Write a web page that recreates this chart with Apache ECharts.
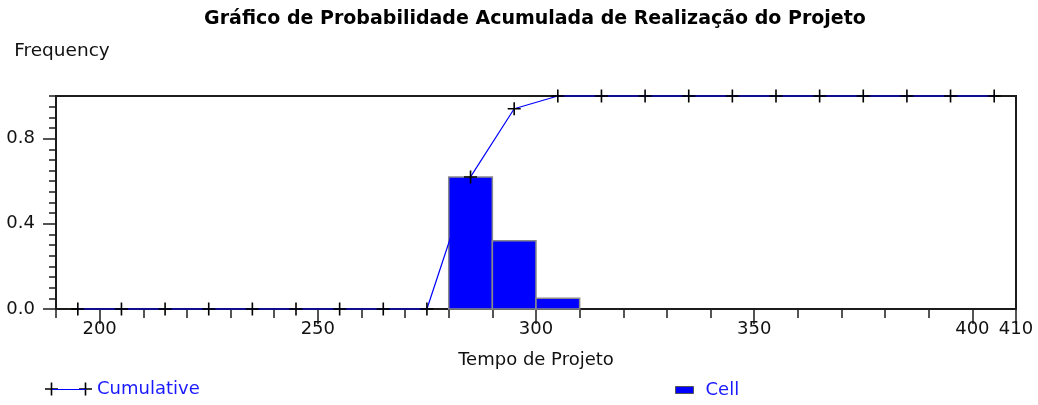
<!DOCTYPE html>
<html>
<head>
<meta charset="utf-8">
<script src="https://cdn.jsdelivr.net/npm/echarts@6/dist/echarts.min.js"></script>
<style>
  html, body { margin: 0; padding: 0; background: #fff; }
  #chart { width: 1038px; height: 405px; }
</style>
</head>
<body>
<div id="chart"></div>
<script>
// Histogram cells (project duration bins) and their relative frequency
const cellStart = [280, 290, 300];
const cellEnd = [290, 300, 310];
const cellFreq = [0.62, 0.32, 0.05];

// Cumulative probability at each bin midpoint
const cumX = [195, 205, 215, 225, 235, 245, 255, 265, 275, 285, 295,
              305, 315, 325, 335, 345, 355, 365, 375, 385, 395, 405];
const cumY = [0, 0, 0, 0, 0, 0, 0, 0, 0, 0.62, 0.94,
              1, 1, 1, 1, 1, 1, 1, 1, 1, 1, 1];

// Axis tick labels
const xLabels = [200, 250, 300, 350, 400, 410];
const yLabels = [0, 0.4, 0.8];

const FONT = 'DejaVu Sans';
const INK = '#1c1c1c';
const CROSS = 'path://M5.7,0h1.6v13h-1.6z M0,5.7h13v1.6h-13z';
const CROSS_PAIR = 'path://M5.7,0h1.6v13h-1.6z M0,5.7h13v1.6h-13z M39.7,0h1.6v13h-1.6z M34,5.7h13v1.6h-13z';

const cellData = cellStart.map((s, i) => [s, cellEnd[i], cellFreq[i]]);
const cumData = cumX.map((x, i) => [x, cumY[i]]);

const chart = echarts.init(document.getElementById('chart'), null, { renderer: 'canvas' });

chart.setOption({
  animation: false,
  backgroundColor: '#fff',
  title: {
    text: 'Gráfico de Probabilidade Acumulada de Realização do Projeto',
    left: 535,
    top: 10,
    padding: 0,
    textAlign: 'center',
    textStyle: { fontFamily: FONT, fontWeight: 'bold', fontSize: 19, color: '#000' }
  },
  grid: {
    left: 56, right: 22, top: 96, bottom: 96,
    show: true,
    borderColor: INK,
    borderWidth: 2,
    backgroundColor: 'transparent'
  },
  legend: [
    {
      left: 45, top: 380, padding: 0,
      itemWidth: 47, itemHeight: 13,
      data: [{ name: 'Cumulative', icon: CROSS_PAIR, itemStyle: { color: '#000' } }],
      textStyle: { fontFamily: FONT, fontSize: 18, color: '#1a1aff' },
      selectedMode: false
    },
    {
      left: 675, top: 381, padding: 0,
      itemWidth: 18, itemHeight: 7,
      data: [{ name: 'Cell', icon: 'rect', itemStyle: { color: '#0000ff', borderColor: '#555', borderWidth: 1 } }],
      textStyle: { fontFamily: FONT, fontSize: 18, color: '#1a1aff', padding: [0, 0, 0, 7] },
      selectedMode: false
    }
  ],
  graphic: [
    // blue stroke joining the two crosses of the "Cumulative" legend key
    { type: 'line', z: 100, shape: { x1: 52, y1: 389.5, x2: 86, y2: 389.5 },
      style: { stroke: '#0000ff', lineWidth: 1.2 } }
  ],
  xAxis: [
    {
      type: 'value', min: 190, max: 410, interval: 10,
      position: 'bottom',
      name: 'Tempo de Projeto', nameLocation: 'middle', nameGap: 42,
      nameTextStyle: { fontFamily: FONT, fontSize: 18, color: '#111' },
      axisLine: { show: true, onZero: false, lineStyle: { color: INK, width: 2 } },
      axisTick: { show: true, length: 9, lineStyle: { color: INK, width: 1.5 } },
      axisLabel: { show: false },
      splitLine: { show: false }
    },
    {
      type: 'value', min: 190, max: 410,
      position: 'bottom',
      axisLine: { show: false, onZero: false },
      axisTick: { show: true, length: 15, customValues: xLabels, lineStyle: { color: INK, width: 1.5 } },
      axisLabel: { show: true, customValues: xLabels, margin: 11,
        fontFamily: FONT, fontSize: 18, color: '#111' },
      splitLine: { show: false }
    }
  ],
  yAxis: [
    {
      type: 'value', min: 0, max: 1, interval: 0.05,
      position: 'left',
      axisLine: { show: true, onZero: false, lineStyle: { color: INK, width: 2 } },
      axisTick: { show: true, length: 7, lineStyle: { color: INK, width: 1.5 } },
      axisLabel: { show: false },
      splitLine: { show: false }
    },
    {
      type: 'value', min: 0, max: 1,
      position: 'left',
      name: 'Frequency', nameLocation: 'end', nameGap: 35,
      nameTextStyle: { fontFamily: FONT, fontSize: 18.5, color: '#111', padding: [0, 0, 0, 12] },
      axisLine: { show: false, onZero: false },
      axisTick: { show: true, length: 13, customValues: yLabels, lineStyle: { color: INK, width: 1.5 } },
      axisLabel: { show: true, customValues: yLabels, margin: 21,
        formatter: v => v.toFixed(1),
        fontFamily: FONT, fontSize: 18, color: '#111' },
      splitLine: { show: false }
    }
  ],
  series: [
    {
      name: 'Cell',
      type: 'custom',
      xAxisIndex: 0, yAxisIndex: 0,
      z: 2,
      itemStyle: { color: '#0000ff', borderColor: '#8a8a8a', borderWidth: 1.5 },
      encode: { x: [0, 1], y: 2 },
      data: cellData,
      renderItem: function (params, api) {
        const p0 = api.coord([api.value(0), api.value(2)]);
        const p1 = api.coord([api.value(1), 0]);
        return {
          type: 'rect',
          shape: { x: p0[0], y: p0[1], width: p1[0] - p0[0], height: p1[1] - p0[1] },
          style: { fill: '#0000ff', stroke: '#8a8a8a', lineWidth: 1.5 }
        };
      }
    },
    {
      name: 'Cumulative',
      type: 'line',
      xAxisIndex: 0, yAxisIndex: 0,
      z: 3,
      clip: false,
      data: cumData,
      symbol: CROSS,
      symbolSize: 13,
      showAllSymbol: true,
      itemStyle: { color: '#000' },
      lineStyle: { color: '#0000ff', width: 1.2 }
    }
  ]
});
</script>
</body>
</html>
